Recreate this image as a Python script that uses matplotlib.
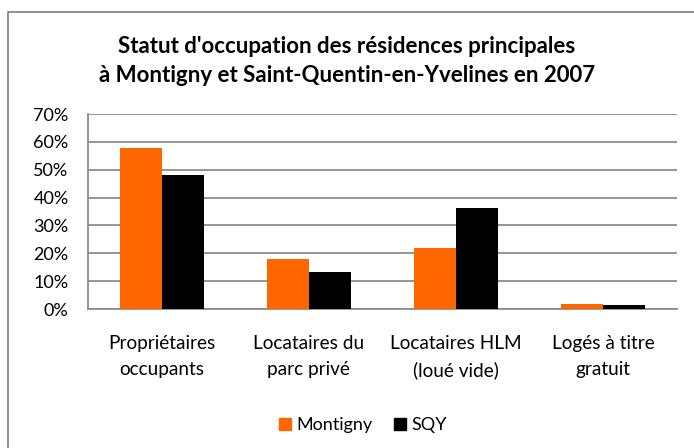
import matplotlib
matplotlib.use("Agg")
import matplotlib.pyplot as plt
import numpy as np
from matplotlib.patches import Rectangle, Patch

categories = ["Propriétaires\noccupants", "Locataires du\nparc privé",
              "Locataires HLM\n(loué vide)", "Logés à titre\ngratuit"]
montigny = [57.7, 17.8, 22.0, 1.8]
sqy = [48.1, 13.4, 36.1, 1.4]
yticks = [0, 10, 20, 30, 40, 50, 60, 70]
ytick_labels = ["0%", "10%", "20%", "30%", "40%", "50%", "60%", "70%"]
title = "Statut d'occupation des résidences principales\nà Montigny et Saint-Quentin-en-Yvelines en 2007"

plt.rcParams['font.family'] = ['Lato', 'DejaVu Sans']

fig = plt.figure(figsize=(6.94, 4.48), dpi=100)
W, H = 694, 448
ax = fig.add_axes([88 / W, 1 - 309 / H, (677 - 88) / W, (309 - 114) / H])

x = np.arange(len(categories))
bw = 0.285
orange = "#FF6600"
ax.bar(x - bw / 2, montigny, bw, color=orange, label="Montigny", zorder=3)
ax.bar(x + bw / 2, sqy, bw, color="black", label="SQY", zorder=3)

ax.set_xlim(-0.5, len(categories) - 0.5)
ax.set_ylim(0, 70)
ax.set_yticks(yticks)
ax.set_yticklabels(ytick_labels, fontsize=13)
ax.set_xticks(x)
ax.set_xticklabels(categories, fontsize=13.7, linespacing=1.62)
ax.tick_params(axis='y', length=0, pad=14)
ax.tick_params(axis='x', length=0, pad=19)
ax.yaxis.grid(True, color="#8c8c8c", linewidth=1.3, zorder=0)
for s in ["top", "right"]:
    ax.spines[s].set_visible(False)
for s in ["left", "bottom"]:
    ax.spines[s].set_color("#8c8c8c")
    ax.spines[s].set_linewidth(1.3)

fig.text(0.5, 1 - 61 / H, title, ha="center", va="center", fontsize=16,
         fontweight="bold", linespacing=1.42)

handles = [Patch(color=orange, label="Montigny"), Patch(color="black", label="SQY")]
fig.legend(handles=handles, loc="center", bbox_to_anchor=(363 / W, 1 - 425 / H),
           ncol=2, frameon=False, fontsize=13, handlelength=0.65, handleheight=0.65,
           handletextpad=0.3, columnspacing=1.2)

fig.patches.append(Rectangle((8 / W, -0.1), 1.2, 1 - 12 / H + 0.1, transform=fig.transFigure,
                             fill=False, edgecolor="#7f7f7f", linewidth=1.2))

fig.savefig("out.png", dpi=100)
